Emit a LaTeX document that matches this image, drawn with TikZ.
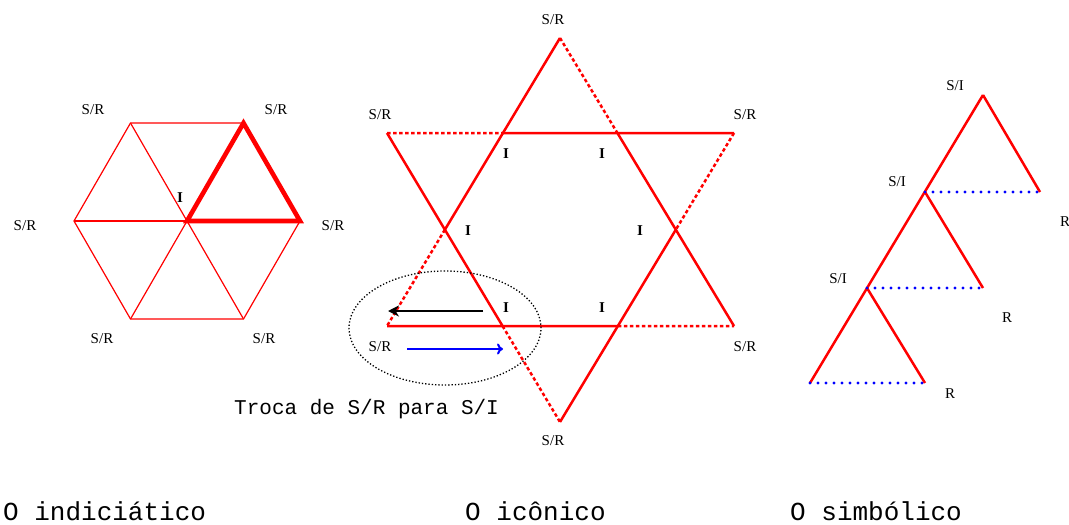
\documentclass[tikz,border=0pt]{standalone}
\usepackage{fontspec}
\setmainfont{Liberation Serif}
\setmonofont{Liberation Mono}
\usetikzlibrary{arrows.meta, shapes.geometric}

\begin{document}
\begin{tikzpicture}[x=1pt, y=-1pt,
  lbl/.style={font=\fontsize{15}{18}\selectfont, inner sep=0pt},
  intlbl/.style={font=\fontsize{15}{18}\selectfont\bfseries, inner sep=0pt},
  titlelbl/.style={font=\fontsize{26}{30}\selectfont\ttfamily, anchor=base west, inner sep=0pt},
  thinedge/.style={draw=red, line width=1.2pt},
  thickedge/.style={draw=red, line width=4.6pt, line join=miter},
  solidedge/.style={draw=red, line width=2.5pt},
  dashedge/.style={draw=red, line width=2.5pt, dash pattern=on 3.5pt off 2.5pt},
  dotbase/.style={draw=blue, line width=3.4pt, line cap=round, dash pattern=on 0pt off 8pt}
]
  \useasboundingbox (0,0) rectangle (1069,525);

  % O indiciatico
  \coordinate (hc) at (187,221);
  \coordinate (h0) at (300,221);
  \coordinate (h1) at (243.5,123);
  \coordinate (h2) at (130.5,123);
  \coordinate (h3) at (74,221);
  \coordinate (h4) at (130.5,319);
  \coordinate (h5) at (243.5,319);
  \draw[thinedge] (h0) -- (h1) -- (h2) -- (h3) -- (h4) -- (h5) -- cycle;
  \draw[thinedge] (h0) -- (h3);
  \draw[thinedge] (h1) -- (h4);
  \draw[thinedge] (h2) -- (h5);
  \draw[thickedge] (hc) -- (h0) -- (h1) -- cycle;

  \node[lbl] (hexTL) at (93,110) {S/R};
  \node[lbl] (hexTR) at (276,110) {S/R};
  \node[lbl] (hexL) at (25,226) {S/R};
  \node[lbl] (hexR) at (333,226) {S/R};
  \node[lbl] (hexBL) at (102,339) {S/R};
  \node[lbl] (hexBR) at (264,339) {S/R};
  \node[intlbl] (hexI) at (180,198) {I};

  % O iconico
  \coordinate (sT) at (560,38);
  \coordinate (sTL) at (387,133);
  \coordinate (sTR) at (734,133);
  \coordinate (sBL) at (387,326);
  \coordinate (sBR) at (734,326);
  \coordinate (sB) at (560,422);
  \coordinate (iTL) at (intersection of sT--sBL and sTL--sTR);
  \coordinate (iTR) at (intersection of sT--sBR and sTL--sTR);
  \coordinate (iL) at (intersection of sT--sBL and sTL--sB);
  \coordinate (iR) at (intersection of sT--sBR and sTR--sB);
  \coordinate (iBL) at (intersection of sBL--sBR and sTL--sB);
  \coordinate (iBR) at (intersection of sBL--sBR and sTR--sB);

  \draw[solidedge] (sT) -- (iTL) -- (iL);
  \draw[solidedge] (iTR) -- (iR) -- (sBR);
  \draw[solidedge] (sBL) -- (iBL) -- (iBR);
  \draw[solidedge] (iTL) -- (iTR) -- (sTR);
  \draw[solidedge] (sTL) -- (iL) -- (iBL);
  \draw[solidedge] (iR) -- (iBR) -- (sB);
  \draw[dashedge] (sT) -- (iTR);
  \draw[dashedge] (sTL) -- (iTL);
  \draw[dashedge] (sTR) -- (iR);
  \draw[dashedge] (iL) -- (sBL);
  \draw[dashedge] (iBR) -- (sBR);
  \draw[dashedge] (iBL) -- (sB);

  \node[lbl] (starT) at (553,20) {S/R};
  \node[lbl] (starTL) at (380,115) {S/R};
  \node[lbl] (starTR) at (745,115) {S/R};
  \node[lbl] (starBL) at (380,347) {S/R};
  \node[lbl] (starBR) at (745,347) {S/R};
  \node[lbl] (starB) at (553,441) {S/R};
  \node[intlbl] (starI1) at (506,154) {I};
  \node[intlbl] (starI2) at (602,154) {I};
  \node[intlbl] (starI3) at (468,231) {I};
  \node[intlbl] (starI4) at (640,231) {I};
  \node[intlbl] (starI5) at (506,308) {I};
  \node[intlbl] (starI6) at (602,308) {I};

  \node[draw, dotted, line width=1.3pt, ellipse, minimum width=192, minimum height=114] (swap) at (445,328) {};
  \coordinate (blackS) at (483,311);
  \coordinate (blackE) at (388,311);
  \coordinate (blueS) at (407,349);
  \coordinate (blueE) at (503,349);
  \draw[line width=2.5pt, -{Stealth[length=11pt, width=11pt]}] (blackS) -- (blackE);
  \draw[blue, line width=2pt, -{To[length=6pt, width=11pt]}] (blueS) -- (blueE);
  \node[font=\fontsize{21}{25}\selectfont\ttfamily, anchor=west, inner sep=0pt] (troca) at (234,409) {Troca de S/R para S/I};

  % O simbolico
  \coordinate (t1) at (983,95);
  \coordinate (t1L) at (925,192);
  \coordinate (t1R) at (1040,192);
  \coordinate (t2L) at (867,288);
  \coordinate (t2R) at (983,288);
  \coordinate (t3L) at (810,383);
  \coordinate (t3R) at (925,383);
  \draw[solidedge] (t1) -- (t3L);
  \draw[solidedge] (t1) -- (t1R);
  \draw[solidedge] (t1L) -- (t2R);
  \draw[solidedge] (t2L) -- (t3R);
  \draw[dotbase] (t1L) -- (t1R);
  \draw[dotbase] (t2L) -- (t2R);
  \draw[dotbase] (t3L) -- (t3R);

  \node[lbl] (symI1) at (955,86) {S/I};
  \node[lbl] (symI2) at (897,182) {S/I};
  \node[lbl] (symI3) at (838,279) {S/I};
  \node[lbl] (symR1) at (1065,222) {R};
  \node[lbl] (symR2) at (1007,318) {R};
  \node[lbl] (symR3) at (950,394) {R};

  \node[titlelbl] (indic) at (3,520) {O indiciático};
  \node[titlelbl] (icon) at (465,520) {O icônico};
  \node[titlelbl] (simb) at (790,520) {O simbólico};
\end{tikzpicture}
\end{document}
